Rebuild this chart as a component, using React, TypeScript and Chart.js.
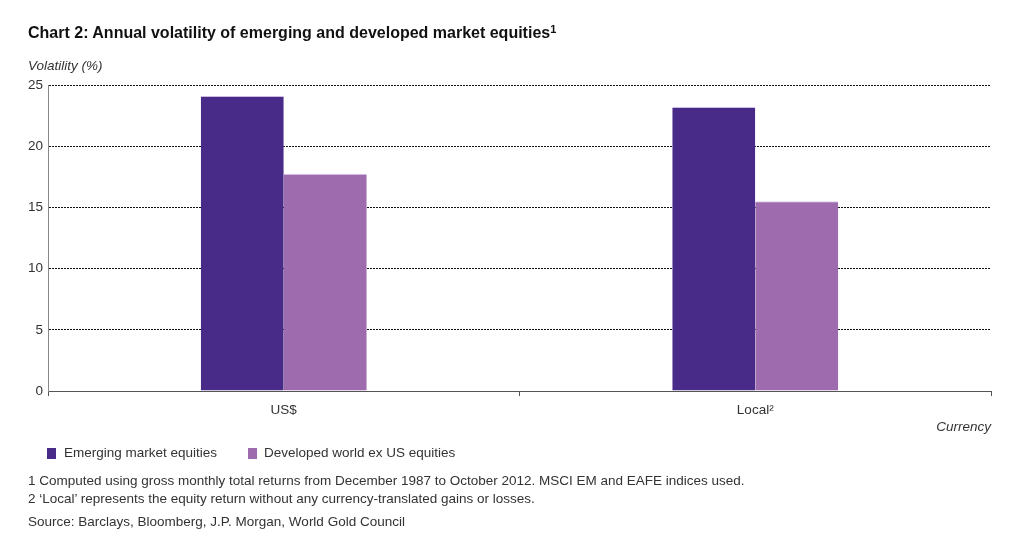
import React, { useEffect, useRef } from "react";
import { Chart, registerables } from "chart.js";

Chart.register(...registerables);

const categories = ["US$", "Local\u00B2"];
const seriesNames = ["Emerging market equities", "Developed world ex US equities"];
const emergingValues = [24.1, 23.2];
const developedValues = [17.75, 15.5];
const yTicks = [0, 5, 10, 15, 20, 25];
const colors = ["#482B89", "#9E6CAE"];

const FONT = "'Liberation Sans Narrow', 'Liberation Sans', Arial, sans-serif";

export default function App() {
  const ref = useRef<HTMLCanvasElement | null>(null);

  useEffect(() => {
    const ctx = ref.current!.getContext("2d")!;
    const chart = new Chart(ctx, {
      type: "bar",
      data: {
        labels: categories,
        datasets: [
          {
            label: seriesNames[0],
            data: emergingValues,
            backgroundColor: colors[0],
            borderColor: "#cbbde0",
            borderWidth: { top: 1, left: 0, right: 0, bottom: 0 } as any,
            categoryPercentage: 0.352,
            barPercentage: 1,
          },
          {
            label: seriesNames[1],
            data: developedValues,
            backgroundColor: colors[1],
            borderColor: "#dccbe3",
            borderWidth: { top: 1, left: 0, right: 0, bottom: 0 } as any,
            categoryPercentage: 0.352,
            barPercentage: 1,
          },
        ],
      },
      options: {
        animation: false,
        responsive: false,
        maintainAspectRatio: false,
        layout: { padding: { left: 0, right: 33, top: 85, bottom: 0 } },
        plugins: { legend: { display: false }, tooltip: { enabled: false }, title: { display: false } },
        scales: {
          x: {
            grid: {
              offset: true,
              drawOnChartArea: false,
              drawTicks: true,
              tickLength: 5,
              color: "#555",
            },
            border: { display: true, color: "#555", width: 1 },
            ticks: { color: "#333", font: { family: FONT, size: 13.5 }, padding: 6 },
            afterFit: (s: any) => {
              s.height = 550 - 391;
            },
          },
          y: {
            min: 0,
            max: 25,
            afterBuildTicks: (s: any) => {
              s.ticks = yTicks.map((v) => ({ value: v }));
            },
            grid: {
              drawTicks: false,
              color: (c: any) => (c.tick && c.tick.value === 0 ? "rgba(0,0,0,0)" : "#111"),
              lineWidth: 1,
            },
            border: { display: true, color: "#888", width: 1, dash: [2, 1] as any },
            ticks: { color: "#333", font: { family: FONT, size: 13.5 }, padding: 5 },
            afterFit: (s: any) => {
              s.width = 48;
            },
          },
        },
      },
    } as any);
    return () => chart.destroy();
  }, []);

  const txt: React.CSSProperties = {
    position: "absolute",
    fontFamily: FONT,
    color: "#333",
    fontSize: 13.5,
    whiteSpace: "nowrap",
    lineHeight: "16px",
  };

  return (
    <div style={{ position: "absolute", left: 0, top: 0, width: 1024, height: 550, background: "#fff" }}>
      <canvas ref={ref} width={1024} height={550} style={{ position: "absolute", left: 0, top: 0, width: 1024, height: 550 }} />
      <div style={{ ...txt, left: 28, top: 23, fontSize: 16, fontWeight: "bold", color: "#111", lineHeight: "20px" }}>
        Chart 2: Annual volatility of emerging and developed market equities
        <sup style={{ fontSize: 11, verticalAlign: "top", position: "relative", top: -4 }}>1</sup>
      </div>
      <div style={{ ...txt, left: 28, top: 58, fontStyle: "italic" }}>Volatility (%)</div>
      <div style={{ ...txt, right: 1024 - 991, top: 419, fontStyle: "italic" }}>Currency</div>
      <div style={{ position: "absolute", left: 47, top: 448, width: 9, height: 11, background: colors[0] }} />
      <div style={{ ...txt, left: 64, top: 445 }}>{seriesNames[0]}</div>
      <div style={{ position: "absolute", left: 248, top: 448, width: 9, height: 11, background: colors[1] }} />
      <div style={{ ...txt, left: 264, top: 445 }}>{seriesNames[1]}</div>
      <div style={{ ...txt, left: 28, top: 473 }}>
        1 Computed using gross monthly total returns from December 1987 to October 2012. MSCI EM and EAFE indices used.
      </div>
      <div style={{ ...txt, left: 28, top: 491 }}>
        2 ‘Local’ represents the equity return without any currency-translated gains or losses.
      </div>
      <div style={{ ...txt, left: 28, top: 514 }}>Source: Barclays, Bloomberg, J.P. Morgan, World Gold Council</div>
    </div>
  );
}
